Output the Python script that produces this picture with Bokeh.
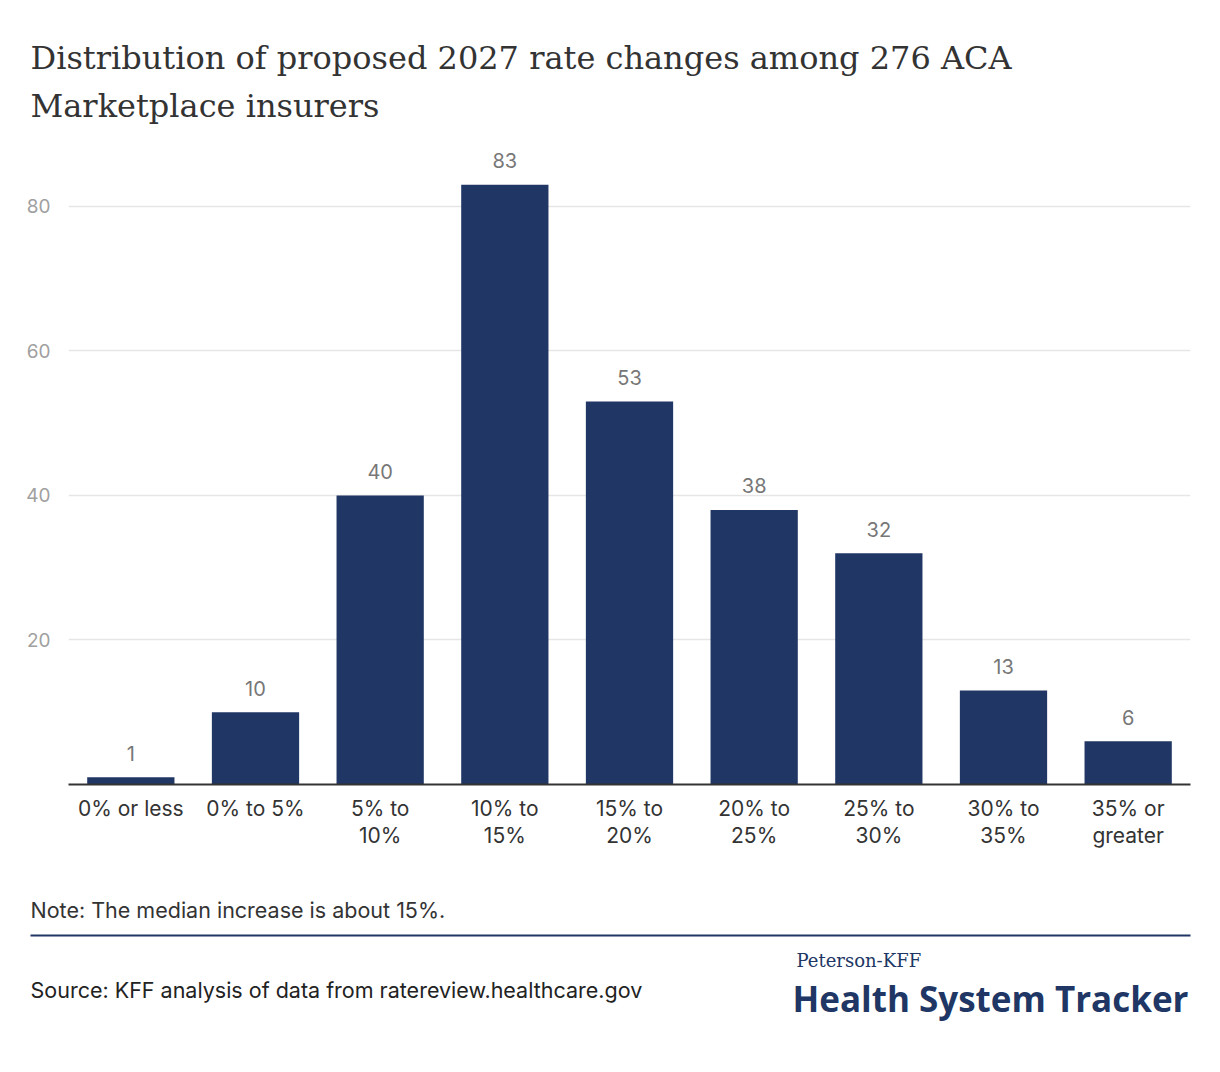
from bokeh.plotting import figure
from bokeh.layouts import column
from bokeh.models import ColumnDataSource, FixedTicker, Range1d
from bokeh.core.properties import value
from bokeh.embed import file_html
from bokeh.resources import INLINE

categories = ["0% or less", "0% to 5%", "5% to\n10%", "10% to\n15%", "15% to\n20%",
              "20% to\n25%", "25% to\n30%", "30% to\n35%", "35% or\ngreater"]
counts = [1, 10, 40, 83, 53, 38, 32, 13, 6]
y_ticks = [20, 40, 60, 80]

title_lines = ["Distribution of proposed 2027 rate changes among 276 ACA", "Marketplace insurers"]
note_text = "Note: The median increase is about 15%."
source_text = "Source: KFF analysis of data from ratereview.healthcare.gov"

NAVY = "#203664"
BODY = "Inter"
W = 1212
DY = -8  # baseline correction


def blank(h, y0):
    f = figure(width=W, height=h, x_range=Range1d(0, W), y_range=Range1d(y0 + h, y0),
               min_border=0, output_backend="svg", toolbar_location=None,
               x_axis_type=None, y_axis_type=None)
    f.outline_line_color = None
    f.xgrid.visible = False
    f.ygrid.visible = False
    if "frame_align" in f.properties():
        f.frame_align = False
    return f


# ---- header (title)
top = blank(140, 0)
top.text(x=[30, 30], y=[65 + DY, 113 + DY], text=title_lines, text_font=value("DejaVu Serif"),
         text_font_size="32px", text_color="#333333", text_baseline="alphabetic")

# ---- main chart
src = ColumnDataSource(dict(cat=categories, n=counts, lbl=[str(c) for c in counts]))

p = figure(x_range=categories, y_range=(0, 89.13), frame_width=1122, frame_height=644,
           min_border_left=68, min_border_right=22, min_border_top=0, min_border_bottom=96,
           output_backend="svg", toolbar_location=None)
p.outline_line_color = None
if "frame_align" in p.properties():
    p.frame_align = False

p.vbar(x="cat", top="n", width=0.7, source=src, fill_color=NAVY, line_color=None)
p.text(x="cat", y="n", text="lbl", source=src, text_align="center", text_baseline="middle",
       y_offset=-24, text_font=value(BODY), text_font_size="20px", text_color="#777777")

p.yaxis.ticker = FixedTicker(ticks=y_ticks)
p.yaxis.axis_line_color = None
p.yaxis.major_tick_line_color = None
p.yaxis.minor_tick_line_color = None
p.yaxis.major_label_text_font = BODY
p.yaxis.major_label_text_font_size = "19px"
p.yaxis.major_label_text_color = "#a0a0a0"
p.yaxis.major_label_standoff = 12

p.xaxis.axis_line_color = "#333333"
p.xaxis.axis_line_width = 2
p.xaxis.major_tick_line_color = None
p.xaxis.minor_tick_line_color = None
p.xaxis.major_label_text_font = BODY
p.xaxis.major_label_text_font_size = "21px"
p.xaxis.major_label_text_color = "#333333"
p.xaxis.major_label_standoff = 5
p.xaxis.major_label_text_line_height = 1.1

p.xgrid.grid_line_color = None
p.ygrid.grid_line_color = "#e6e6e6"
p.ygrid.grid_line_width = 1.5
p.ygrid.ticker = FixedTicker(ticks=y_ticks)

# ---- footer
bot = blank(184, 880)
bot.text(x=[30], y=[917 + DY], text=[note_text], text_font=value(BODY), text_font_size="21.5px",
         text_color="#333333", text_baseline="alphabetic")
bot.segment(x0=[30], y0=[935], x1=[1190], y1=[935], line_color=NAVY, line_width=2)
bot.text(x=[30], y=[997 + DY], text=[source_text], text_font=value(BODY), text_font_size="21.5px",
         text_color="#222222", text_baseline="alphabetic")
bot.text(x=[796], y=[968 + DY], text=["Peterson-KFF"], text_font=value("DejaVu Serif"),
         text_font_size="18px", text_color=NAVY, text_baseline="alphabetic")
bot.text(x=[1188], y=[1006 + DY], text=["Health System Tracker"], text_font=value("Open Sans"),
         text_font_style="bold", text_font_size="35px", text_color=NAVY,
         text_baseline="alphabetic", text_align="right")

layout = column(top, p, bot, spacing=0)
open("out.html", "w").write(file_html(layout, INLINE))
